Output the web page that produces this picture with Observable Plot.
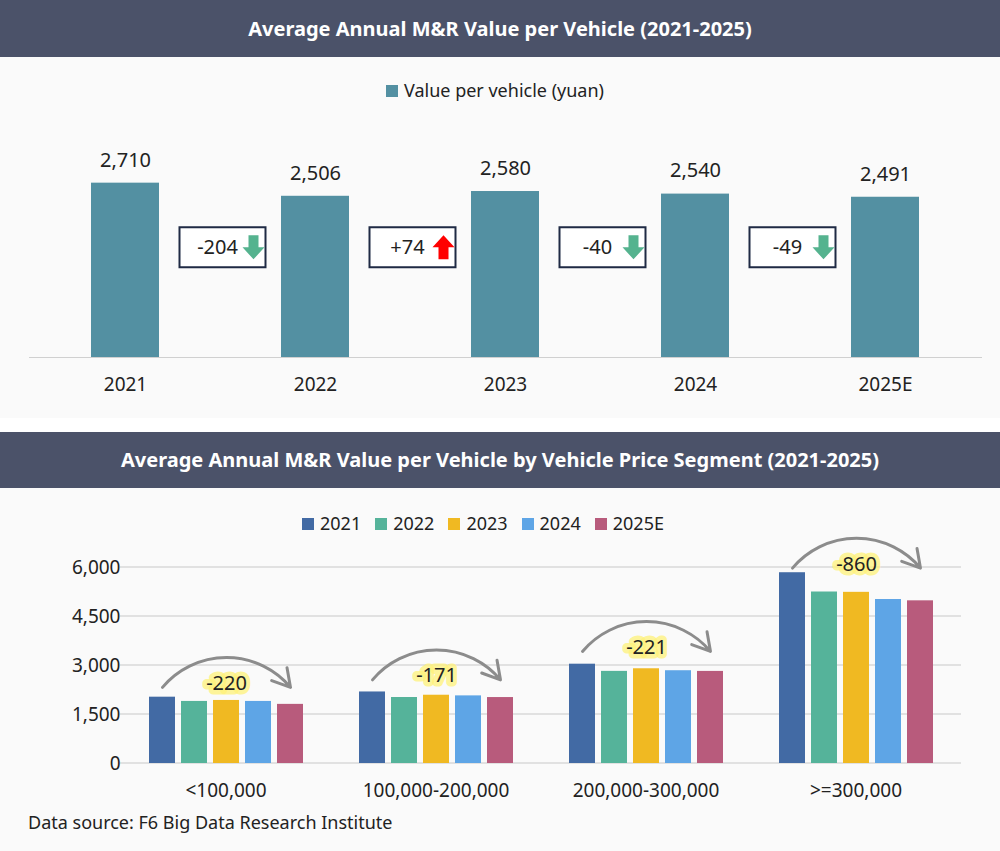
<!DOCTYPE html>
<html><head><meta charset="utf-8">
<script src="https://cdn.jsdelivr.net/npm/d3@7"></script>
<script src="https://cdn.jsdelivr.net/npm/@observablehq/plot@0.6"></script>
<style>
body{margin:0;width:1000px;height:851px;position:relative;background:#fff;font-family:"Noto Sans",sans-serif;overflow:hidden}
.hdr{position:absolute;left:0;width:1000px;background:#4b5269;color:#fff;font-weight:bold;font-size:20px;text-align:center}
.panel{position:absolute;left:0;width:1000px;background:#fafafa}
.abs{position:absolute}
.leg{position:absolute;font-size:18px;color:#222;display:flex;gap:14px;align-items:center}
.leg span.sw{display:inline-block;width:12px;height:12px;margin-right:6px}
</style></head><body>
<div class="hdr" style="top:0;height:57px;line-height:57px">Average Annual M&amp;R Value per Vehicle (2021-2025)</div>
<div class="panel" style="top:57px;height:361px"></div>
<div class="hdr" style="top:432px;height:56px;line-height:56px">Average Annual M&amp;R Value per Vehicle by Vehicle Price Segment (2021-2025)</div>
<div class="panel" style="top:488px;height:363px"></div>
<div class="leg" style="top:78px;left:386px"><span><span class="sw" style="background:#5390a2"></span>Value per vehicle (yuan)</span></div>
<div class="leg" id="leg2" style="top:511px;left:302px"></div>
<div id="c1" class="abs" style="top:57px;left:0"></div>
<div id="c2" class="abs" style="top:488px;left:0"></div>
<div class="abs" style="top:810px;left:28px;font-size:18px;color:#222">Data source: F6 Big Data Research Institute</div>
<script>
const years = ["2021","2022","2023","2024","2025E"];
const values = [2710,2506,2580,2540,2491];
const changes = ["-204","+74","-40","-49"];
const changeUp = [false,true,false,false];
const boxLevel = 1713;

const segments = ["<100,000","100,000-200,000","200,000-300,000",">=300,000"];
const segValues = {
  "2021":[2030,2190,3040,5840],
  "2022":[1900,2020,2820,5250],
  "2023":[1930,2090,2900,5240],
  "2024":[1900,2070,2840,5020],
  "2025E":[1810,2019,2819,4980]
};
const segDiff = ["-220","-171","-221","-860"];
const arcLevel = [2330,2560,3430,5980];
const yTicks = [0,1500,3000,4500,6000];
const colors = ["#426aa4","#55b39a","#f0b922","#5ea5e6","#b85b7c"];

const font = '"Noto Sans",sans-serif';
const topData = years.map((y,i)=>({year:y,value:values[i]}));
const boxes = changes.map((c,i)=>({year:years[i],label:c,up:changeUp[i]}));
const boxSym = {draw(ctx,size){ctx.rect(-43,-20,86,40);}};
function arrowSym(up){return {draw(ctx){
  const s = up?-1:1;
  ctx.moveTo(-5,-12*s);ctx.lineTo(5,-12*s);ctx.lineTo(5,0);ctx.lineTo(11,0);
  ctx.lineTo(0,12*s);ctx.lineTo(-11,0);ctx.lineTo(-5,0);ctx.closePath();}};}
const downSym = arrowSym(false), upSym = arrowSym(true);

const p1 = Plot.plot({
  width:1000,height:361,marginTop:107,marginBottom:61,marginLeft:29,marginRight:18,
  style:{fontFamily:font,background:"transparent"},
  x:{domain:years,paddingInner:0.64,paddingOuter:0.32,label:null,tickSize:0,tickPadding:20},
  y:{domain:[0,3000],axis:null},
  marks:[
    Plot.barY(topData,{x:"year",y:"value",fill:"#5390a2"}),
    Plot.ruleY([0],{stroke:"#d0d0d0"}),
    Plot.text(topData,{x:"year",y:"value",text:d=>d3.format(",")(d.value),dy:-23,fontSize:20,fill:"#222"}),
    Plot.dot(boxes,{x:"year",y:()=>boxLevel,dx:97,symbol:boxSym,r:10,fill:"#fff",stroke:"#1f2a44",strokeWidth:2}),
    Plot.text(boxes,{x:"year",y:()=>boxLevel,dx:92,text:"label",fontSize:20,fill:"#222"}),
    Plot.dot(boxes.filter(d=>!d.up),{x:"year",y:()=>boxLevel,dx:128,symbol:downSym,r:10,fill:"#55b38f",stroke:null}),
    Plot.dot(boxes.filter(d=>d.up),{x:"year",y:()=>boxLevel,dx:128,symbol:upSym,r:10,fill:"#ff0000",stroke:null})
  ]
});
p1.querySelectorAll('[aria-label="x-axis tick label"] text').forEach(t=>{t.setAttribute("font-size","19");t.setAttribute("fill","#222")});
document.getElementById("c1").append(p1);

const rows=[];
segments.forEach((s,i)=>years.forEach(y=>rows.push({seg:s,year:y,value:segValues[y][i]})));
const ann = segments.map((s,i)=>({seg:s,label:segDiff[i],lvl:arcLevel[i]}));

const p2 = Plot.plot({
  width:1000,height:363,marginTop:79,marginBottom:88,marginLeft:120,marginRight:39,
  style:{fontFamily:font,background:"transparent",fontSize:"19px"},
  fx:{domain:segments,paddingInner:0.26,paddingOuter:0.13,label:null,tickSize:0,tickPadding:20},
  x:{domain:years,axis:null,paddingInner:0.2,paddingOuter:0},
  y:{domain:[0,6000],ticks:yTicks,tickFormat:d3.format(","),label:null,tickSize:0,tickPadding:28},
  color:{domain:years,range:colors},
  marks:[
    Plot.barY(rows,{fx:"seg",x:"year",y:"value",fill:"year"}),
    Plot.arrow(ann,{fx:"seg",x1:()=>"2021",x2:()=>"2025E",y1:"lvl",y2:"lvl",bend:50,stroke:"#8c8c8c",strokeWidth:3,headLength:10,insetStart:0,insetEnd:0}),
    Plot.text(ann,{fx:"seg",x:()=>"2023",y:"lvl",text:"label",dy:-4,fontSize:20,fill:"#222",stroke:"#fff27a",strokeWidth:9,strokeOpacity:0.75})
  ]
});
p2.querySelectorAll('text').forEach(t=>t.setAttribute("fill","#222"));
// full-width gridlines behind the facets, positioned with the plot's own y scale
const ys = p2.scale("y");
const gridG = document.createElementNS("http://www.w3.org/2000/svg","g");
yTicks.forEach(v=>{
  const l=document.createElementNS("http://www.w3.org/2000/svg","line");
  const yy=ys.apply(v);
  l.setAttribute("x1",120);l.setAttribute("x2",961);l.setAttribute("y1",yy);l.setAttribute("y2",yy);
  l.setAttribute("stroke","#d9d9d9");l.setAttribute("stroke-width","1.5");
  gridG.append(l);
});
p2.insertBefore(gridG,p2.querySelector("g"));
document.getElementById("c2").append(p2);

const leg=document.getElementById("leg2");
years.forEach((y,i)=>{const s=document.createElement("span");s.innerHTML=`<span class="sw" style="background:${colors[i]}"></span>${y}`;leg.append(s);});
</script></body></html>
